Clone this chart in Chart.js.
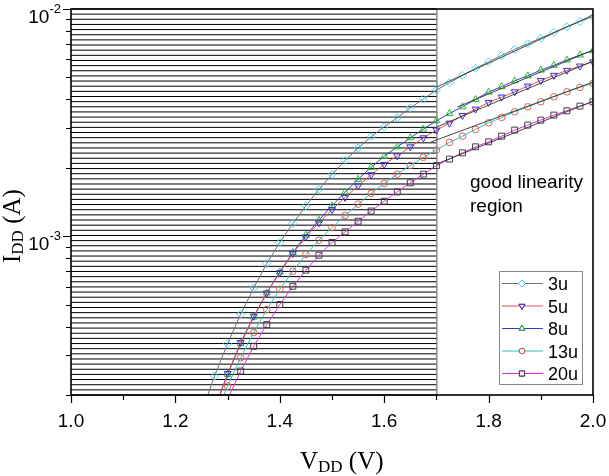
<!DOCTYPE html>
<html>
<head>
<meta charset="utf-8">
<script src="https://cdn.jsdelivr.net/npm/chart.js@4/dist/chart.umd.min.js"></script>
<style>
html,body{margin:0;padding:0;background:#fff;}
#c{display:block;}
</style>
</head>
<body>
<canvas id="c" width="609" height="476"></canvas>
<script>
// ---- data (VDD in V, IDD in A) ----
const vdd = [1.25,1.275,1.3,1.325,1.35,1.375,1.4,1.425,1.45,1.475,1.5,1.525,1.55,1.575,1.6,1.625,1.65,1.675,1.7,1.725,1.75,1.775,1.8,1.825,1.85,1.875,1.9,1.925,1.95,1.975,2.0];
const i3u  = [1.68e-4,2.424e-4,3.368e-4,4.533e-4,5.918e-4,7.58e-4,9.38e-4,1.138e-3,1.361e-3,1.607e-3,1.871e-3,2.153e-3,2.443e-3,2.742e-3,3.03e-3,3.32e-3,3.674e-3,4.014e-3,4.396e-3,4.735e-3,5.105e-3,5.48e-3,5.857e-3,6.252e-3,6.645e-3,7.033e-3,7.45e-3,7.894e-3,8.354e-3,8.81e-3,9.25e-3];
const i5u  = [null,1.738e-4,2.486e-4,3.402e-4,4.442e-4,5.627e-4,6.905e-4,8.39e-4,9.93e-4,1.145e-3,1.308e-3,1.481e-3,1.665e-3,1.865e-3,2.07e-3,2.258e-3,2.474e-3,2.71e-3,2.931e-3,3.145e-3,3.395e-3,3.626e-3,3.882e-3,4.095e-3,4.32e-3,4.577e-3,4.842e-3,5.104e-3,5.37e-3,5.609e-3,5.857e-3];
const i8u  = [null,1.738e-4,2.466e-4,3.368e-4,4.41e-4,5.627e-4,6.96e-4,8.475e-4,1.01e-3,1.175e-3,1.361e-3,1.563e-3,1.778e-3,2.009e-3,2.249e-3,2.474e-3,2.71e-3,2.961e-3,3.22e-3,3.47e-3,3.711e-3,4.0e-3,4.307e-3,4.554e-3,4.83e-3,5.082e-3,5.384e-3,5.649e-3,5.96e-3,6.27e-3,6.55e-3];
const i13u = [null,1.585e-4,2.19e-4,2.92e-4,3.765e-4,4.754e-4,5.84e-4,7.01e-4,8.305e-4,9.6e-4,1.092e-3,1.234e-3,1.384e-3,1.543e-3,1.707e-3,1.876e-3,2.048e-3,2.225e-3,2.393e-3,2.586e-3,2.756e-3,2.951e-3,3.155e-3,3.333e-3,3.528e-3,3.711e-3,3.904e-3,4.107e-3,4.32e-3,4.517e-3,4.704e-3];
const i20u = [null,1.38e-4,1.914e-4,2.55e-4,3.276e-4,4.083e-4,5.0e-4,6.02e-4,7.085e-4,8.246e-4,9.38e-4,1.045e-3,1.164e-3,1.291e-3,1.426e-3,1.567e-3,1.718e-3,1.876e-3,2.045e-3,2.184e-3,2.328e-3,2.474e-3,2.602e-3,2.757e-3,2.931e-3,3.083e-3,3.243e-3,3.412e-3,3.565e-3,3.739e-3,3.905e-3];

// linear-fit lines in the good linearity region
const fitStartV = [1.70, 1.70, 1.74, 1.69, 1.70];
const fitEndV   = [2.00, 2.00, 2.00, 2.00, 2.00];
const fitStartI = [4.53e-3, 3.02e-3, 3.70e-3, 2.60e-3, 2.076e-3];
const fitEndI   = [9.41e-3, 5.90e-3, 6.60e-3, 4.77e-3, 3.93e-3];

const seriesLabels = ['3u','5u','8u','13u','20u'];
const xTickLabels = ['1.0','1.2','1.4','1.6','1.8','2.0'];
const xMinorTicks = [1.1,1.3,1.5,1.7,1.9];
const yMajorTicks = [1e-2, 1e-3];
const yMajorExp = ['-2','-3'];
const linearRegionStart = 1.7;
const annotationLines = ['good linearity','region'];

// ---- styles ----
const lineColors   = ['#707070','#e05050','#3a3ad0','#30c0c0','#e030e0'];
const markerColors = ['#40d8f0','#3030e0','#20c020','#e06050','#404040'];
const markerStyles = ['rectRot','triangle','triangle','circle','rect'];
const markerRot    = [0,180,0,0,0];
const markerRadius = [4,4,4,3.3,4.2];
const allSeries = [i3u,i5u,i8u,i13u,i20u];

const datasets = [];
allSeries.forEach((s, k) => {
  datasets.push({
    label: seriesLabels[k],
    data: vdd.map((v, j) => ({x: v, y: s[j]})),
    borderColor: lineColors[k],
    borderWidth: 1,
    pointStyle: markerStyles[k],
    pointRotation: markerRot[k],
    pointRadius: markerRadius[k],
    pointBorderColor: markerColors[k],
    pointBackgroundColor: 'rgba(0,0,0,0)',
    pointBorderWidth: 1,
    tension: 0,
    order: 2
  });
});
fitStartV.forEach((v, k) => {
  datasets.push({
    label: 'fit ' + seriesLabels[k],
    data: [{x: v, y: fitStartI[k]}, {x: fitEndV[k], y: fitEndI[k]}],
    borderColor: '#303030',
    borderWidth: 0.9,
    pointRadius: 0,
    order: 1
  });
});

const SANS = '"Liberation Sans", Arial, sans-serif';
const SERIF = '"Liberation Serif", "Times New Roman", serif';

const deco = {
  id: 'deco',
  beforeDatasetsDraw(chart) {
    const {ctx, chartArea: a, scales: {x}} = chart;
    const xr = x.getPixelForValue(linearRegionStart);
    ctx.save();
    // hatch
    ctx.strokeStyle = '#000';
    ctx.lineWidth = 1;
    const n = 75;
    const step = (a.bottom - a.top) / n;
    ctx.beginPath();
    for (let k = 0; k <= n; k++) {
      const yy = a.top + k * step;
      ctx.moveTo(a.left, yy);
      ctx.lineTo(xr, yy);
    }
    ctx.stroke();
    // boundary line
    ctx.strokeStyle = '#555';
    ctx.beginPath();
    ctx.moveTo(xr + 0.5, a.top);
    ctx.lineTo(xr + 0.5, a.bottom);
    ctx.stroke();
    ctx.restore();
  },
  afterDatasetsDraw(chart) {
    const {ctx, chartArea: a, scales: {x, y}} = chart;
    ctx.save();
    // frame
    ctx.strokeStyle = '#000';
    ctx.lineWidth = 1.6;
    ctx.strokeRect(a.left, a.top, a.right - a.left, a.bottom - a.top);
    ctx.lineWidth = 1.2;
    // x ticks
    ctx.beginPath();
    xTickLabels.forEach(t => {
      const px = Math.round(x.getPixelForValue(parseFloat(t))) + 0.5;
      ctx.moveTo(px, a.bottom); ctx.lineTo(px, a.bottom + 8);
    });
    xMinorTicks.forEach(v => {
      const px = Math.round(x.getPixelForValue(v)) + 0.5;
      ctx.moveTo(px, a.bottom); ctx.lineTo(px, a.bottom + 5);
    });
    // y ticks
    yMajorTicks.forEach(v => {
      const py = Math.round(y.getPixelForValue(v)) + 0.5;
      ctx.moveTo(a.left, py); ctx.lineTo(a.left - 8, py);
    });
    [1e-4, 1e-3].forEach(dec => {
      for (let m = 2; m <= 9; m++) {
        const v = dec * m;
        if (v < y.min - 1e-12 || v > y.max) continue;
        const py = Math.round(y.getPixelForValue(v)) + 0.5;
        ctx.moveTo(a.left, py); ctx.lineTo(a.left - 5, py);
      }
    });
    ctx.stroke();

    // x tick labels
    ctx.fillStyle = '#000';
    ctx.font = '19px ' + SANS;
    ctx.textAlign = 'center';
    ctx.textBaseline = 'alphabetic';
    xTickLabels.forEach(t => {
      ctx.fillText(t, x.getPixelForValue(parseFloat(t)), a.bottom + 32);
    });
    // y tick labels 10^n
    yMajorTicks.forEach((v, k) => {
      const py = y.getPixelForValue(v);
      ctx.font = '13px ' + SANS;
      ctx.textAlign = 'right';
      const expW = ctx.measureText(yMajorExp[k]).width;
      const right = a.left - 10;
      ctx.fillText(yMajorExp[k], right, py + 4);
      ctx.font = '19px ' + SANS;
      ctx.fillText('10', right - expW, py + 14);
    });

    // x title V_DD (V)
    ctx.textAlign = 'left';
    let cx = 300, by = 469;
    ctx.font = '25px ' + SERIF; ctx.fillText('V', cx, by); cx += ctx.measureText('V').width;
    ctx.font = '17px ' + SERIF; ctx.fillText('DD', cx, by + 3); cx += ctx.measureText('DD').width;
    ctx.font = '25px ' + SERIF; ctx.fillText(' (V)', cx, by);

    // y title I_DD (A)
    ctx.save();
    ctx.translate(20, 263);
    ctx.rotate(-Math.PI / 2);
    cx = 0;
    ctx.font = '25px ' + SERIF; ctx.fillText('I', cx, 0); cx += ctx.measureText('I').width;
    ctx.font = '17px ' + SERIF; ctx.fillText('DD', cx, 3); cx += ctx.measureText('DD').width;
    ctx.font = '25px ' + SERIF; ctx.fillText(' (A)', cx, 0);
    ctx.restore();

    // annotation
    ctx.font = '19px ' + SANS;
    ctx.fillText(annotationLines[0], 470, 188);
    ctx.fillText(annotationLines[1], 470, 212);

    // legend
    const lx = 499, ly = 271, lw = 83, lh = 113;
    ctx.fillStyle = '#fff';
    ctx.fillRect(lx, ly, lw, lh);
    ctx.strokeStyle = '#8a8a8a';
    ctx.lineWidth = 1;
    ctx.strokeRect(lx + 0.5, ly + 0.5, lw, lh);
    seriesLabels.forEach((lab, k) => {
      const ry = 283.5 + k * 22.5;
      ctx.strokeStyle = lineColors[k];
      ctx.lineWidth = 1;
      ctx.beginPath();
      ctx.moveTo(502, ry); ctx.lineTo(543, ry);
      ctx.stroke();
      ctx.fillStyle = '#fff';
      Chart.helpers.drawPoint(ctx, {
        pointStyle: markerStyles[k], rotation: markerRot[k],
        radius: markerRadius[k] - 0.5, borderWidth: 1
      }, 522, ry);
      ctx.strokeStyle = markerColors[k];
      ctx.lineWidth = 1;
      ctx.stroke();
      ctx.fillStyle = '#000';
      ctx.font = '18px ' + SANS;
      ctx.textAlign = 'left';
      ctx.fillText(lab, 548, ry + 6.5);
    });
    ctx.restore();
  }
};

new Chart(document.getElementById('c'), {
  type: 'line',
  data: { datasets },
  options: {
    responsive: false,
    animation: false,
    devicePixelRatio: 1,
    layout: { padding: { top: 9, right: 16, left: 0, bottom: 0 } },
    plugins: { legend: { display: false }, tooltip: { enabled: false } },
    scales: {
      x: {
        type: 'linear', min: 1.0, max: 2.0,
        ticks: { display: false },
        grid: { display: false, drawTicks: false },
        border: { display: false },
        afterFit(s) { s.height = 81; }
      },
      y: {
        type: 'logarithmic', min: 2e-4, max: 1e-2,
        ticks: { display: false },
        grid: { display: false, drawTicks: false },
        border: { display: false },
        afterFit(s) { s.width = 71; }
      }
    }
  },
  plugins: [deco]
});
</script>
</body>
</html>
